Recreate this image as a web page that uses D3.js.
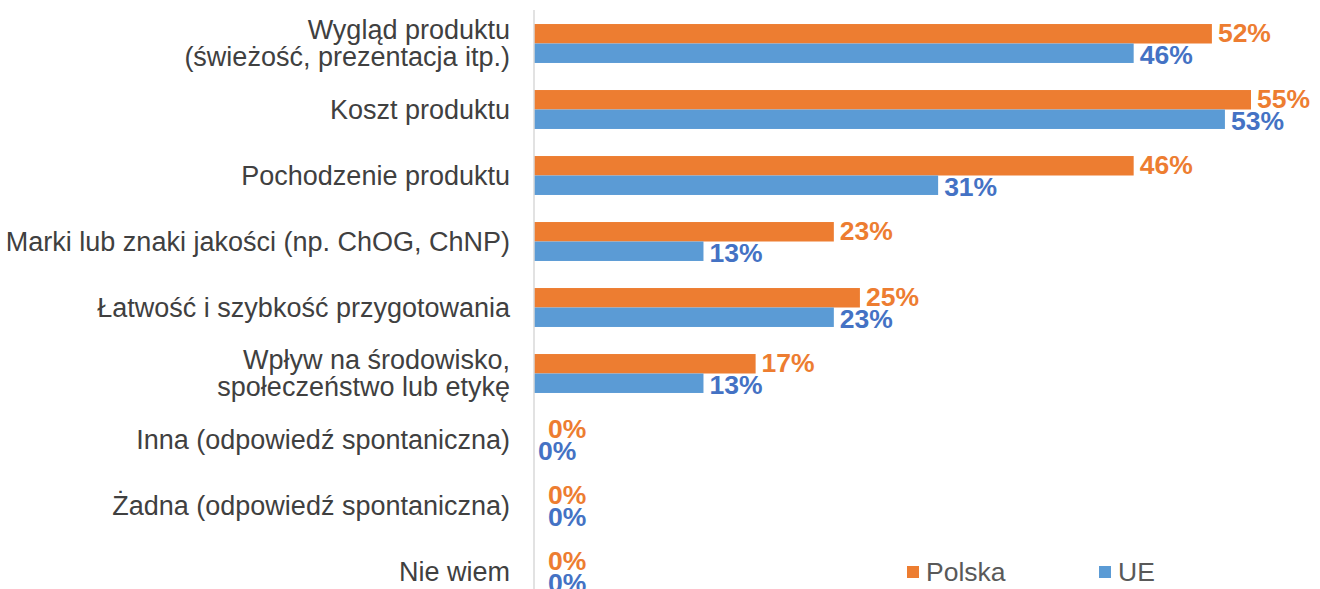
<!DOCTYPE html>
<html>
<head>
<meta charset="utf-8">
<script src="https://cdn.jsdelivr.net/npm/d3@7"></script>
<style>
  body { margin: 0; background: #fff; }
  text { font-family: "Liberation Sans", Arial, sans-serif; }
</style>
</head>
<body>
<script>
// categories (multi-line labels split with \n)
var categories = [
    "Wygląd produktu\n(świeżość, prezentacja itp.)",
    "Koszt produktu",
    "Pochodzenie produktu",
    "Marki lub znaki jakości (np. ChOG, ChNP)",
    "Łatwość i szybkość przygotowania",
    "Wpływ na środowisko,\nspołeczeństwo lub etykę",
    "Inna (odpowiedź spontaniczna)",
    "Żadna (odpowiedź spontaniczna)",
    "Nie wiem"
];

var seriesNames = ["Polska", "UE"];
var polska = [52, 55, 46, 23, 25, 17, 0, 0, 0];
var ue = [46, 53, 31, 13, 23, 13, 0, 0, 0];

var w = 1320, h = 589;
var barColors = { "Polska": "#ED7D31", "UE": "#5B9BD5" };
var labelColors = { "Polska": "#ED7D31", "UE": "#4472C4" };

var svg = d3.select("body")
    .append("svg")
    .attr("width", w)
    .attr("height", h);

// scales
var x = d3.scaleLinear()
    .domain([0, 55])
    .range([534, 1251]);

var y = d3.scaleBand()
    .domain(categories)
    .range([10.5, 604.5])
    .paddingInner(0.41)
    .paddingOuter(0.205);

var ySub = d3.scaleBand()
    .domain(seriesNames)
    .range([0, y.bandwidth()]);

var rows = categories.map(function(c, i){
    return { cat: c, values: [
        { name: "Polska", value: polska[i] },
        { name: "UE", value: ue[i] }
    ]};
});

var groups = svg.selectAll(".row")
    .data(rows)
    .enter()
    .append("g")
    .attr("class", "row")
    .attr("transform", function(d){ return "translate(0," + y(d.cat) + ")"; });

// bars
groups.selectAll("rect")
    .data(function(d){ return d.values; })
    .enter()
    .append("rect")
    .attr("x", x(0))
    .attr("y", function(d){ return ySub(d.name); })
    .attr("width", function(d){ return x(d.value) - x(0); })
    .attr("height", ySub.bandwidth())
    .style("fill", function(d){ return barColors[d.name]; });

// value labels (zero values get pushed right of the axis like Excel does)
groups.selectAll(".val")
    .data(function(d){ return d.values; })
    .enter()
    .append("text")
    .attr("class", "val")
    .attr("x", function(d, i){
        if (d.value === 0) return x(0) + (i === 0 || d3.select(this.parentNode).datum().cat !== categories[6] ? 14 : 4);
        return x(d.value) + 6;
    })
    .attr("y", function(d){ return ySub(d.name) + ySub.bandwidth() / 2 + (d.name === "UE" ? 2 : -1); })
    .attr("dy", "0.35em")
    .style("font-size", "26.5px")
    .style("font-weight", "bold")
    .style("fill", function(d){ return labelColors[d.name]; })
    .text(function(d){ return d.value + "%"; });

// category axis line
svg.append("line")
    .attr("x1", x(0))
    .attr("x2", x(0))
    .attr("y1", 10)
    .attr("y2", h)
    .style("stroke", "#D9D9D9")
    .style("stroke-width", 1.5);

// category labels
var catLabels = svg.selectAll(".cat")
    .data(categories)
    .enter()
    .append("text")
    .attr("class", "cat")
    .attr("text-anchor", "end")
    .style("font-size", "27px")
    .style("fill", "#404040")
    .attr("y", function(d){ return y(d) + y.bandwidth() / 2; });

catLabels.each(function(d){
    var lines = d.split("\n");
    var t = d3.select(this);
    lines.forEach(function(line, i){
        t.append("tspan")
            .attr("x", 510)
            .attr("dy", i === 0 ? (0.35 - (lines.length - 1) * 0.5) + "em" : "1em")
            .text(line);
    });
});

// legend
var legendX = [907, 1099];
var legend = svg.selectAll(".legend")
    .data(seriesNames)
    .enter()
    .append("g")
    .attr("class", "legend")
    .attr("transform", function(d, i){ return "translate(" + legendX[i] + ",566)"; });

legend.append("rect")
    .attr("width", 12)
    .attr("height", 12)
    .style("fill", function(d){ return barColors[d]; });

legend.append("text")
    .attr("x", 19)
    .attr("y", 6)
    .attr("dy", "0.35em")
    .style("font-size", "26.5px")
    .style("fill", "#595959")
    .text(function(d){ return d; });
</script>
</body>
</html>
